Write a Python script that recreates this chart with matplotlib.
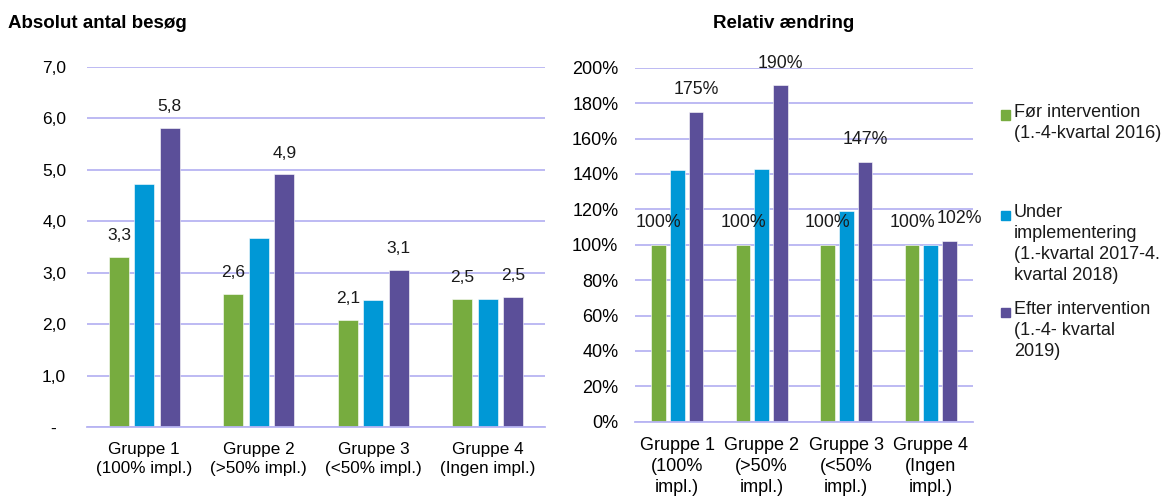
import matplotlib.pyplot as plt
import numpy as np
from matplotlib.patches import Rectangle

plt.rcParams['font.family'] = ['Liberation Sans', 'DejaVu Sans']

# visits per group, before / during / after the intervention
groups_abs = ['Gruppe 1\n(100% impl.)', 'Gruppe 2\n(>50% impl.)',
              'Gruppe 3\n(<50% impl.)', 'Gruppe 4\n(Ingen impl.)']
groups_rel = ['Gruppe 1\n(100%\nimpl.)', 'Gruppe 2\n(>50%\nimpl.)',
              'Gruppe 3\n(<50%\nimpl.)', 'Gruppe 4\n(Ingen\nimpl.)']
foer = [3.31, 2.58, 2.08, 2.49]
under = [4.72, 3.68, 2.47, 2.49]
efter = [5.82, 4.91, 3.06, 2.53]

# relative change, index 100 = before
foer_rel = [100, 100, 100, 100]
under_rel = [142, 143, 119, 100]
efter_rel = [175, 190, 147, 102]

legend_labels = ['Før intervention\n(1.-4-kvartal 2016)',
                 'Under\nimplementering\n(1.-kvartal 2017-4.\nkvartal 2018)',
                 'Efter intervention\n(1.-4- kvartal\n2019)']

c_green = '#77AC3F'
c_blue = '#0098D6'
c_purple = '#5B4F99'
c_grid = '#B7B4F2'
colors = [c_green, c_blue, c_purple]

fig = plt.figure(figsize=(11.7, 4.96), dpi=100)
ax1 = fig.add_axes([0.0744, 0.1391, 0.3915, 0.7258])
ax2 = fig.add_axes([0.5427, 0.1498, 0.2889, 0.7137])

def style_axis(ax):
    ax.set_axisbelow(True)
    ax.yaxis.grid(True, color=c_grid, lw=1.3)
    for s in ('top', 'right', 'left'):
        ax.spines[s].set_visible(False)
    ax.spines['bottom'].set_color(c_grid)
    ax.spines['bottom'].set_linewidth(1.3)
    ax.tick_params(length=0)

x = np.arange(4)
w = 0.175
step = 0.222

# absolute numbers
for i, (vals, col) in enumerate(zip([foer, under, efter], colors)):
    bars = ax1.bar(x + (i - 1) * step, vals, w, color=col, edgecolor='white', lw=0.4)
    if i != 1:
        for b, v in zip(bars, vals):
            ax1.annotate(f'{v:.1f}'.replace('.', ','),
                         (b.get_x() + b.get_width() / 2, v),
                         xytext=(0, 10), textcoords='offset points',
                         ha='center', va='bottom', fontsize=12.5, color='#1a1a1a')
style_axis(ax1)
ax1.set_xlim(-0.5, 3.5)
ax1.set_ylim(0, 7)
ax1.set_yticks(np.arange(0, 8))
ax1.set_yticklabels(['-  '] + [f'{v},0' for v in range(1, 8)], fontsize=12.5)
ax1.tick_params(axis='y', pad=15)
ax1.set_xticks(x)
ax1.set_xticklabels(groups_abs, fontsize=12.3, linespacing=1.3)
ax1.tick_params(axis='x', pad=11)

# relative change
for i, (vals, col) in enumerate(zip([foer_rel, under_rel, efter_rel], colors)):
    bars = ax2.bar(x + (i - 1) * step, vals, w, color=col, edgecolor='white', lw=0.4)
    if i != 1:
        for b, v, fv in zip(bars, vals, foer_rel):
            # push the label right when it would run into the "før" label
            dx = 7 if (i == 2 and v - fv < 10) else 0
            ax2.annotate(f'{v}%', (b.get_x() + b.get_width() / 2, v),
                         xytext=(dx, 10), textcoords='offset points',
                         ha='center', va='bottom', fontsize=12.8, color='#1a1a1a')
style_axis(ax2)
ax2.set_xlim(-0.5, 3.5)
ax2.set_ylim(0, 200)
ax2.set_yticks(np.arange(0, 201, 20))
ax2.set_yticklabels([f'{v}%' for v in range(0, 201, 20)], fontsize=13)
ax2.tick_params(axis='y', pad=12)
ax2.set_xticks(x)
ax2.set_xticklabels(groups_rel, fontsize=13, linespacing=1.3)
ax2.tick_params(axis='x', pad=11)

fig.text(8 / 1170, 1 - 24 / 496, 'Absolut antal besøg', fontsize=13.5,
         fontweight='bold', va='center', ha='left')
fig.text(784 / 1170, 1 - 24 / 496, 'Relativ ændring', fontsize=13.5,
         fontweight='bold', va='center', ha='center')

# legend drawn by hand so the entries can sit at uneven heights
leg_y = [115, 215, 312]
for lab, col, yc in zip(legend_labels, colors, leg_y):
    fig.patches.append(Rectangle((1001 / 1170, 1 - (yc + 4.5) / 496), 9 / 1170, 9 / 496,
                                 transform=fig.transFigure, color=col))
    fig.text(1014 / 1170, 1 - (yc - 11) / 496, lab, fontsize=13, va='top',
             ha='left', linespacing=1.3, color='#1a1a1a')

fig.savefig('out.png', dpi=100)
